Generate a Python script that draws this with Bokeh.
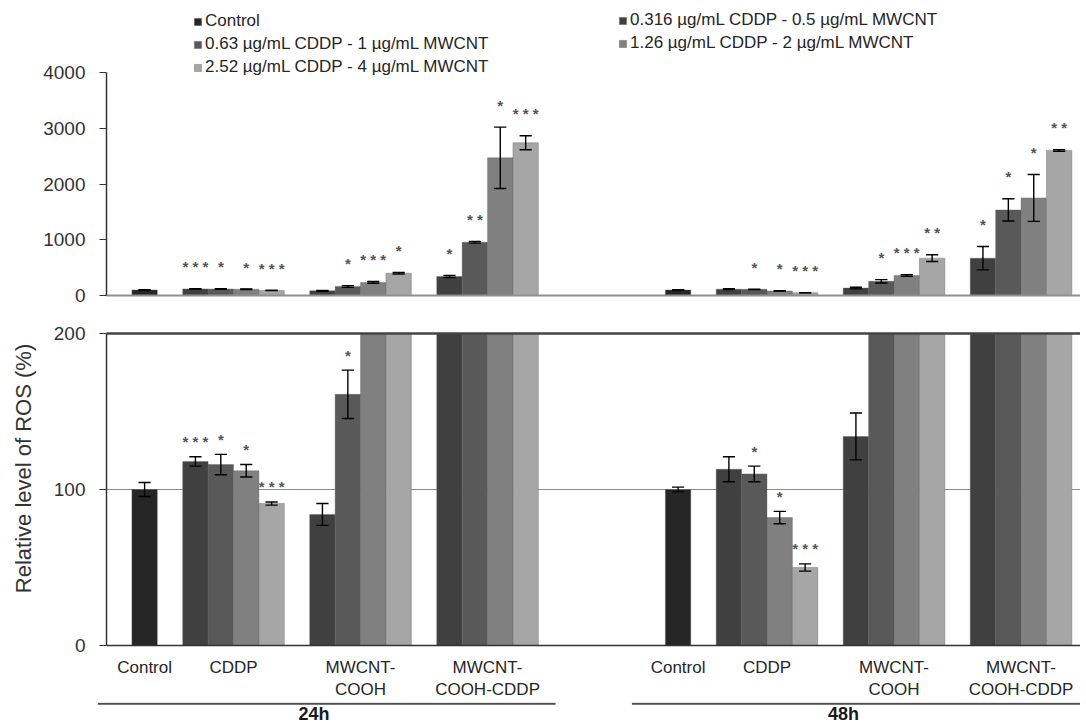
import math
from bokeh.plotting import figure
from bokeh.models import (ColumnDataSource, Range1d, FixedTicker, LinearAxis,
                          Legend, LegendItem)
from bokeh.layouts import column, row
from bokeh.embed import file_html
from bokeh.resources import INLINE
from bokeh.core.properties import value

# ---------------- data ----------------
times = ["24h", "48h"]
treatments = ["Control", "CDDP", "MWCNT-COOH", "MWCNT-COOH-CDDP"]
treatment_labels = ["Control", "CDDP", "MWCNT-\nCOOH", "MWCNT-\nCOOH-CDDP"]
series_labels = [
    "Control",
    "0.316 µg/mL CDDP - 0.5 µg/mL MWCNT",
    "0.63 µg/mL CDDP - 1 µg/mL MWCNT",
    "1.26 µg/mL CDDP - 2 µg/mL MWCNT",
    "2.52 µg/mL CDDP - 4 µg/mL MWCNT",
]
y_title = "Relative level of ROS (%)"

control_mean = [100, 100]
control_err = [4.5, 1.5]

cddp_24h = [118, 116, 112, 91]
cddp_24h_err = [3, 6.5, 4, 1]
cddp_24h_sig = ["***", "*", "*", "***"]
cooh_24h = [84, 161, 235, 400]
cooh_24h_err = [7, 15.5, 15, 15]
cooh_24h_sig = ["", "*", "***", "*"]
cooh_cddp_24h = [340, 955, 2470, 2740]
cooh_cddp_24h_err = [20, 15, 550, 125]
cooh_cddp_24h_sig = ["*", "**", "*", "***"]

cddp_48h = [113, 110, 82, 50]
cddp_48h_err = [8, 5, 4, 2.3]
cddp_48h_sig = ["", "*", "*", "***"]
cooh_48h = [134, 255, 360, 670]
cooh_48h_err = [15, 30, 15, 60]
cooh_48h_sig = ["", "*", "***", "**"]
cooh_cddp_48h = [670, 1535, 1750, 2600]
cooh_cddp_48h_err = [210, 200, 420, 15]
cooh_cddp_48h_sig = ["*", "*", "*", "**"]

upper_ticks = [0, 1000, 2000, 3000, 4000]
lower_ticks = [0, 100, 200]

# ---------------- styling / layout ----------------
CONTROL_COLOR = "#262626"
SERIES_COLORS = ["#404040", "#595959", "#808080", "#a6a6a6"]
FONT = "Liberation Sans"
LW = 40                 # width of the y-title strip
W = 1040                # width of the two panels
LEFT = 65               # left border inside the panels
UNIT_PX = 25.43
X_END = (W - LEFT) / UNIT_PX
UP_FRAME = 295          # upper frame height (from top of page to value 0)
UP_PX_PER = 223 / 4000  # px per unit in the upper panel
LOW_MAX = 200
PAGE_H = 726

groups = {
    ("24h", "CDDP"): (cddp_24h, cddp_24h_err, cddp_24h_sig),
    ("24h", "MWCNT-COOH"): (cooh_24h, cooh_24h_err, cooh_24h_sig),
    ("24h", "MWCNT-COOH-CDDP"): (cooh_cddp_24h, cooh_cddp_24h_err, cooh_cddp_24h_sig),
    ("48h", "CDDP"): (cddp_48h, cddp_48h_err, cddp_48h_sig),
    ("48h", "MWCNT-COOH"): (cooh_48h, cooh_48h_err, cooh_48h_sig),
    ("48h", "MWCNT-COOH-CDDP"): (cooh_cddp_48h, cooh_cddp_48h_err, cooh_cddp_48h_sig),
}

# slot layout: one empty slot between groups, wider gap between time points
group_left = {}
group_n = {}
x = 1.0
for t in times:
    for tr in treatments:
        n = 1 if tr == "Control" else 4
        group_left[(t, tr)] = x
        group_n[(t, tr)] = n
        x += n + 1
    x += 4

CAP = 0.24


def make_source(xs, tops, errs, sigs):
    return ColumnDataSource(dict(
        x=xs, top=tops, err=errs,
        lo=[a - b for a, b in zip(tops, errs)],
        hi=[a + b for a, b in zip(tops, errs)],
        xl=[v - CAP for v in xs], xr=[v + CAP for v in xs],
        sig=[" ".join(s) for s in sigs],
    ))


sources = [make_source([group_left[(t, "Control")] + 0.5 for t in times],
                       control_mean, control_err, ["", ""])]
for k in range(4):
    xs, tops, errs, sigs = [], [], [], []
    for t in times:
        for tr in treatments[1:]:
            vals, ers, sg = groups[(t, tr)]
            xs.append(group_left[(t, tr)] + k + 0.5)
            tops.append(vals[k])
            errs.append(ers[k])
            sigs.append(sg[k])
    sources.append(make_source(xs, tops, errs, sigs))
colors = [CONTROL_COLOR] + SERIES_COLORS


def draw(p, star_offset, y_max):
    rs = []
    for src, col in zip(sources, colors):
        rs.append(p.vbar(x="x", top="top", bottom=0, width=1.0, source=src,
                         fill_color=col, line_color="#5a5a5a", line_width=0.6,
                         line_alpha=0.6))
    sx, sy, st = [], [], []
    for src in sources:
        p.segment(x0="x", y0="lo", x1="x", y1="hi", source=src,
                  line_color="black", line_width=1.4)
        p.segment(x0="xl", y0="hi", x1="xr", y1="hi", source=src,
                  line_color="black", line_width=1.4)
        p.segment(x0="xl", y0="lo", x1="xr", y1="lo", source=src,
                  line_color="black", line_width=1.4)
        d = src.data
        for xv, hv, sg in zip(d["x"], d["hi"], d["sig"]):
            if sg and hv < y_max:          # only the marks that this panel shows
                sx.append(xv)
                sy.append(hv)
                st.append(sg)
    p.text(x=sx, y=sy, text=st, text_align="center",
           text_baseline="alphabetic", y_offset=star_offset,
           text_font=value(FONT), text_font_size="15px",
           text_font_style="bold", text_color="#555555")
    return rs


def style_left(ax, ticks):
    ax.ticker = FixedTicker(ticks=ticks)
    ax.minor_tick_line_color = None
    ax.major_tick_in = 0
    ax.major_tick_out = 7
    ax.major_tick_line_color = "#333333"
    ax.major_tick_line_width = 1.2
    ax.axis_line_color = "#333333"
    ax.axis_line_width = 1.5
    ax.major_label_text_font = FONT
    ax.major_label_text_font_size = "19px"
    ax.major_label_text_color = "#333333"
    ax.major_label_standoff = 14


def line_only(ax, color, width):
    ax.ticker = FixedTicker(ticks=[])
    ax.major_tick_line_color = None
    ax.minor_tick_line_color = None
    ax.major_label_standoff = 0
    ax.axis_line_color = color
    ax.axis_line_width = width


xr = Range1d(0, X_END)

# ---------------- upper panel (frame reaches the top so the legend fits) ----------------
UP_MAX = UP_FRAME / UP_PX_PER
up = figure(width=W, height=318, x_range=xr, y_range=Range1d(0, UP_MAX),
            output_backend="svg", toolbar_location=None,
            min_border_left=LEFT, min_border_right=0, min_border_top=0,
            min_border_bottom=23)
up.outline_line_color = None
up.grid.visible = False
style_left(up.yaxis[0], upper_ticks)
up.yaxis[0].bounds = (0, upper_ticks[-1])
line_only(up.xaxis[0], "#8f8f8f", 2)
up_bars = draw(up, -22, UP_MAX)

leg1 = Legend(items=[LegendItem(label=value(series_labels[i]), renderers=[up_bars[i]])
                     for i in (0, 2, 4)], location=(87, 218))
leg2 = Legend(items=[LegendItem(label=value(series_labels[i]), renderers=[up_bars[i]])
                     for i in (1, 3)], location=(512, 242))
for lg in (leg1, leg2):
    lg.orientation = "vertical"
    lg.glyph_width = 9
    lg.glyph_height = 9
    lg.label_standoff = 3
    lg.spacing = 3
    lg.padding = 0
    lg.margin = 0
    lg.border_line_color = None
    lg.background_fill_alpha = 0
    lg.label_text_font = FONT
    lg.label_text_font_size = "17px"
    lg.label_text_color = "#262626"
    lg.label_height = 20
    up.add_layout(lg, "center")

# ---------------- lower panel (category names are its x tick labels) ----------------
LO_BOTTOM = 57
lo = figure(width=W, height=327 + LO_BOTTOM, x_range=xr, y_range=Range1d(0, LOW_MAX),
            output_backend="svg", toolbar_location=None,
            min_border_left=LEFT, min_border_right=0, min_border_top=15,
            min_border_bottom=LO_BOTTOM)
lo.outline_line_color = None
lo.xgrid.visible = False
lo.ygrid.ticker = FixedTicker(ticks=[100])
lo.ygrid.grid_line_color = "#8c8c8c"
lo.ygrid.grid_line_width = 1
style_left(lo.yaxis[0], lower_ticks)

centers, overrides = [], {}
for t in times:
    for tr, lab in zip(treatments, treatment_labels):
        c = group_left[(t, tr)] + group_n[(t, tr)] / 2
        centers.append(c)
        overrides[c] = lab
xa = lo.xaxis[0]
xa.ticker = FixedTicker(ticks=centers)
xa.major_label_overrides = overrides
xa.major_tick_line_color = None
xa.minor_tick_line_color = None
xa.major_label_standoff = 6
xa.major_label_text_font = FONT
xa.major_label_text_font_size = "17px"
xa.major_label_text_color = "#262626"
xa.major_label_text_line_height = 1.2
xa.axis_line_color = "#333333"
xa.axis_line_width = 1.5

top_ax = LinearAxis()
line_only(top_ax, "#444444", 2.5)
lo.add_layout(top_ax, "above")
draw(lo, -15, LOW_MAX)

# ---------------- shared y title ----------------
LH = 318 + 327 + LO_BOTTOM
lf = figure(width=LW, height=LH, x_range=Range1d(0, LW), y_range=Range1d(-LH, 0),
            output_backend="svg", toolbar_location=None,
            min_border_left=0, min_border_right=0, min_border_top=0,
            min_border_bottom=0, x_axis_location=None, y_axis_location=None)
lf.outline_line_color = None
lf.grid.visible = False
lf.text(x=[23], y=[-468], text=[y_title], angle=math.pi / 2, text_align="center",
        text_baseline="middle", text_font=value(FONT), text_font_size="22px",
        text_color="#333333")

# ---------------- time-point brackets ----------------
BH = PAGE_H - LH
TOP0 = LH              # page y of this strip's top
bt = figure(width=LW + W, height=BH, x_range=Range1d(-12 / UNIT_PX, X_END),
            y_range=Range1d(-BH, 0), output_backend="svg", toolbar_location=None,
            min_border_left=LW + LEFT - 12, min_border_right=0, min_border_top=0,
            min_border_bottom=0, x_axis_location=None, y_axis_location=None)
bt.outline_line_color = None
bt.grid.visible = False

line_x0, line_x1 = [], []
for t in times:
    first = group_left[(t, treatments[0])]
    last = group_left[(t, treatments[-1])] + group_n[(t, treatments[-1])]
    line_x0.append(first - 1.3)
    line_x1.append(min(last + 0.7, X_END))
bt.segment(x0=line_x0, y0=[-1.2] * 2, x1=line_x1, y1=[-1.2] * 2,
           line_color="#4d4d4d", line_width=2)
bt.text(x=[(a + b) / 2 - 0.5 for a, b in zip(line_x0, line_x1)], y=[-(713 - TOP0)] * 2,
        text=times, text_align="center", text_baseline="middle", text_font=value(FONT),
        text_font_size="18px", text_font_style="bold", text_color="#1a1a1a")

layout = column(row(lf, column(up, lo)), bt)
open("out.html", "w").write(file_html(layout, INLINE, title="ROS"))
